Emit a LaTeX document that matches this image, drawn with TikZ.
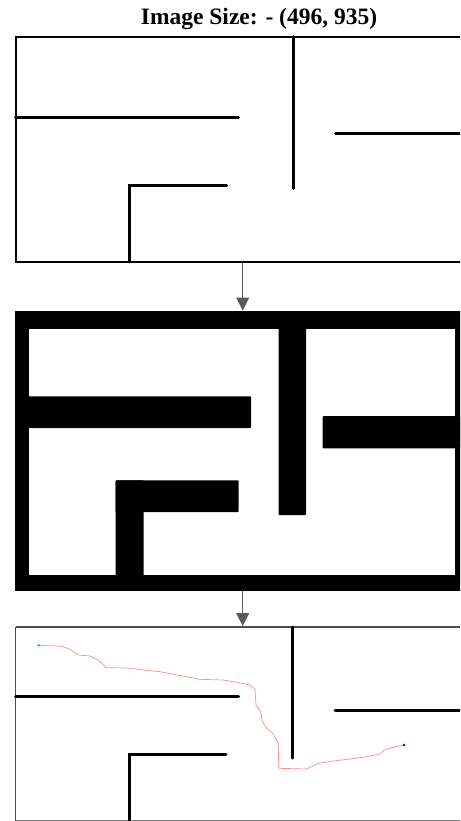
\documentclass[tikz,border=0pt]{standalone}
\usepackage{fontspec}
\setmainfont{Liberation Serif}
\usetikzlibrary{arrows.meta}
\definecolor{arrowgray}{HTML}{5A5A5A}
\definecolor{pathred}{HTML}{FF8A8A}
\tikzset{
  wall/.style={line width=3pt, line cap=round, black},
  frame/.style={line width=2pt, black},
  framegray/.style={line width=1.5pt, black!70},
  flow/.style={line width=1.3pt, arrowgray, -{Triangle[width=13pt,length=13pt]}},
  block/.style={fill=black, rounded corners=0.8pt},
  route/.style={line width=0.7pt, pathred, line join=round},
}
\begin{document}
\begin{tikzpicture}[x=1pt,y=-1pt]
\useasboundingbox (0,0) rectangle (460,821);
\clip (0,0) rectangle (460,821);
% title
\node[font=\bfseries\fontsize{23.5}{27}\selectfont, inner sep=0pt] (title) at (259,19) {Image Size: - (496, 935)};
% ---- top panel: original maze
\draw[frame] (15.5,36.7) rectangle (475,262);
\draw[wall] (15.5,117.7) -- (238.7,117.7);
\draw[wall] (293.3,36.7) -- (293.3,188.5);
\draw[wall] (335.7,133.7) -- (470,133.7);
\draw[wall] (129.3,262) -- (129.3,185.7) -- (226.7,185.7);
\coordinate (p1s) at (242.7,263);
% ---- middle panel: inflated obstacles
\fill[black] (15,311) rectangle (475,591);
\fill[white] (29,328.7) rectangle (455.3,575.3);
\fill[block] (25,396.3) rectangle (251,428);
\fill[block] (278.7,325) rectangle (306,515);
\fill[block] (322.7,416) rectangle (460,448.3);
\fill[block] (115.7,480.3) rectangle (238.7,512);
\fill[block] (115.7,480.3) rectangle (143.7,580);
\coordinate (p2n) at (242.7,310.5);
\coordinate (p2s) at (242.7,591);
% ---- bottom panel: planned route
\draw[framegray] (15.7,627) -- (475,627);
\draw[framegray] (15.7,627) -- (15.7,821);
\draw[line width=1.2pt, black!50] (15.7,820.3) -- (475,820.3);
\draw[wall] (15.7,696.3) -- (238.7,696.3);
\draw[wall] (292.7,627) -- (292.7,758);
\draw[wall] (335,710.3) -- (470,710.3);
\draw[wall] (129.3,825) -- (129.3,754.7) -- (226,754.7);
\coordinate (p3n) at (242.7,626);
\draw[route] (38.7,645.3) -- (61.7,646.3) -- (70,649.3) -- (78.3,655) -- (90,656)
  -- (98.3,660) -- (106,667.7) -- (126.7,668) -- (143.3,670) -- (160,671.7)
  -- (173.3,674.3) -- (186.7,676.7) -- (200,679.3) -- (223.3,680) -- (236.7,682.3)
  -- (250,685) -- (255,689.3) -- (256,705) -- (260.7,711.7) -- (262.3,721.7)
  -- (266.7,728.3) -- (272.7,733.3) -- (278.3,743.3) -- (278.7,768.3) -- (306.7,769)
  -- (318.3,763.3) -- (333.3,761) -- (350,759) -- (366.7,756.7) -- (380,754)
  -- (384,750) -- (393.3,747.3) -- (404,745);
\fill[green!80!black] (38.7,645.3) circle (1.3pt);
\fill[blue] (404,745) circle (1.3pt);
% ---- arrows
\draw[flow] (p1s) -- (p2n);
\draw[flow] (p2s) -- (p3n);
\end{tikzpicture}
\end{document}
